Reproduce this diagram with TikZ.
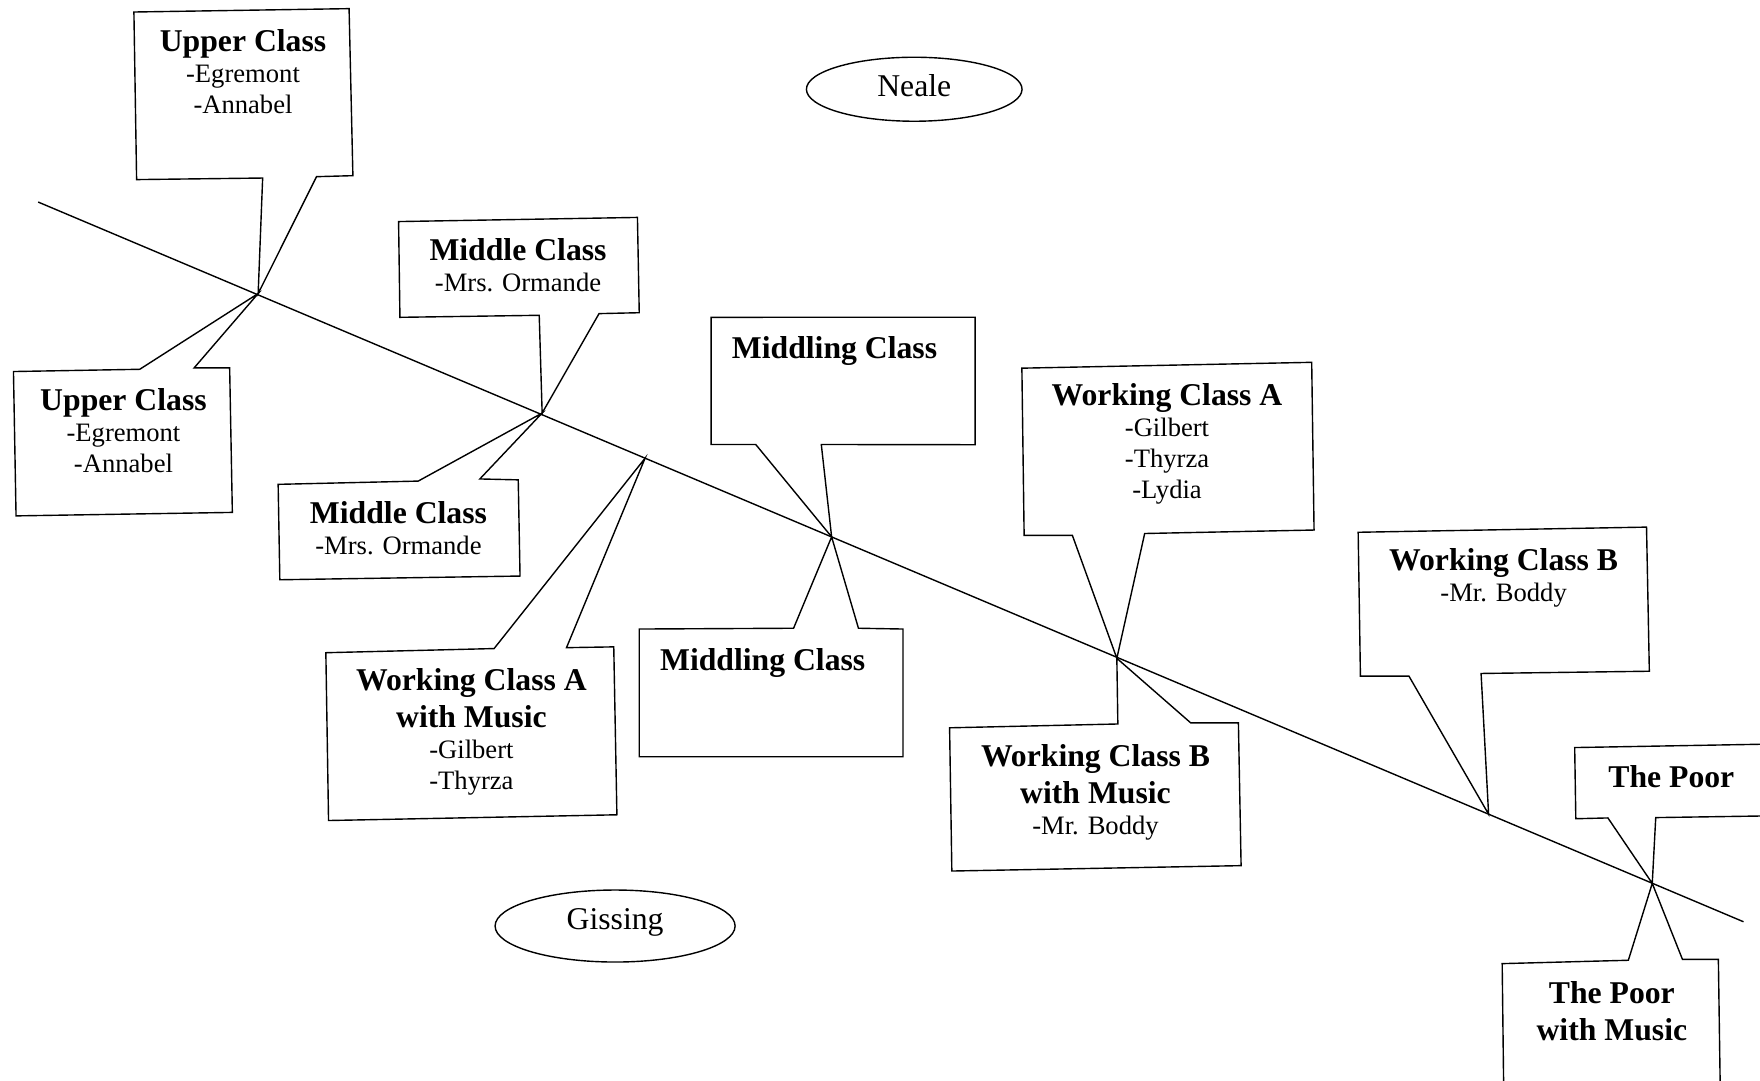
\documentclass[tikz,border=0pt]{standalone}
\usepackage{fontspec}
\setmainfont{Liberation Serif}
\usepackage{tikz}
\usetikzlibrary{calc}
\usetikzlibrary{positioning}
\usetikzlibrary{arrows,shapes}
\usetikzlibrary{shapes.geometric}
\newcommand{\cls}[1]{{\fontsize{15.85}{18}\selectfont\bfseries #1}}
\newcommand{\au}[2][-1.95pt]{\raisebox{#1}[0pt][0pt]{#2}}
\tikzset{
  callout/.style={draw, line width=0.7pt, line join=miter},
  txt/.style={anchor=north, inner sep=0pt, align=center, font=\fontsize{13.3}{15.5}\selectfont},
  author/.style={draw, ellipse, line width=0.7pt, inner sep=0pt, font=\fontsize{15.85}{18}\selectfont},
}

\begin{document}
\begin{tikzpicture}[x=0.5612pt, y=-0.5612pt]

  \clip (0,0) rectangle (1568,963);
  \fill[white] (0,0) rectangle (1568,963);

  % the scale line and the points on it
  \coordinate (lineW) at (34,180);
  \coordinate (lineE) at (1553.3,821.2);
  \coordinate (tipU) at (230,261.5);
  \coordinate (tipM) at (483,368);
  \coordinate (tipW) at (574.7,408.2);
  \coordinate (tipMd) at (740.9,478.3);
  \coordinate (tipA) at (995,586.5);
  \coordinate (tipB) at (1326.2,725.4);
  \coordinate (tipP) at (1472,787);
  \draw[line width=0.7pt] (lineW) -- (lineE);

  % Neale, above the line
  \draw[callout] (119.3,10.7) -- (311,7.7) -- (314.4,156.5) -- (282,157.4) -- (tipU) -- (234,158.6) -- (121.7,160) -- cycle;
  \draw[callout] (355.1,197.4) -- (567.9,193.7) -- (569.5,278.6) -- (533.7,279.4) -- (tipM) -- (480.4,280.9) -- (356.3,282.7) -- cycle;
  \draw[callout] (633.5,282.7) -- (868.7,282.6) -- (868.7,396.2) -- (731.7,396) -- (tipMd) -- (673.3,396) -- (633.5,396) -- cycle;
  \draw[callout] (910.4,328) -- (1168.6,322.8) -- (1170.7,472.2) -- (1019.8,475.3) -- (tipA) -- (955.4,477) -- (912.4,477) -- cycle;
  \draw[callout] (1210,474.2) -- (1466.9,469.6) -- (1469.4,598) -- (1319.5,600) -- (tipB) -- (1255.2,602.3) -- (1212,602.3) -- cycle;
  \draw[callout] (1402.9,666) -- (1600,662.5) -- (1600,726.5) -- (1475.1,728.4) -- (tipP) -- (1432.5,728.7) -- (1403.9,729.4) -- cycle;

  % Gissing, below the line
  \draw[callout] (12,331) -- (124.5,329) -- (tipU) -- (173,327.7) -- (204.6,327.7) -- (207,456.5) -- (14.3,459.6) -- cycle;
  \draw[callout] (247.8,431.5) -- (372.6,428.6) -- (tipM) -- (427.5,426.7) -- (461.7,427.5) -- (463.3,513.2) -- (249.3,516.5) -- cycle;
  \draw[callout] (290.3,581.5) -- (440.2,577.8) -- (tipW) -- (504.7,577) -- (546.8,576.3) -- (549.6,725.9) -- (292.7,731) -- cycle;
  \draw[callout] (569.5,560.4) -- (707,559.7) -- (tipMd) -- (764.8,559.7) -- (804.5,560.4) -- (804.5,674.2) -- (569.5,674.2) -- cycle;
  \draw[callout] (846,648.4) -- (995.9,645) -- (tipA) -- (1060.8,644) -- (1103.3,644) -- (1105.7,771.2) -- (848,776) -- cycle;
  \draw[callout] (1338.3,858.5) -- (1450.7,855.5) -- (tipP) -- (1498.9,854.7) -- (1530.9,854.7) -- (1533,1000) -- (1340,1000) -- cycle;

  \node[txt] (upperN) at (216.5,25.5) {\cls{Upper Class}\\ -Egremont\\ -Annabel};
  \node[txt] (middleN) at (461.5,212.5) {\cls{Middle Class}\\ -Mrs. Ormande};
  \node[txt] (middlingN) at (743.5,299.5) {\cls{Middling Class}};
  \node[txt] (workAN) at (1039.7,341.6) {\cls{Working Class A}\\ -Gilbert\\ -Thyrza\\ -Lydia};
  \node[txt] (workBN) at (1339.6,488.4) {\cls{Working Class B}\\ -Mr. Boddy};
  \node[txt] (poorN) at (1489,681.5) {\cls{The Poor}};

  \node[txt] (upperG) at (110,346) {\cls{Upper Class}\\ -Egremont\\ -Annabel};
  \node[txt] (middleG) at (355,446) {\cls{Middle Class}\\ -Mrs. Ormande};
  \node[txt] (workAG) at (420,595) {\cls{Working Class A}\\[3.1pt] \cls{with Music}\\ -Gilbert\\ -Thyrza};
  \node[txt] (middlingG) at (679.5,577) {\cls{Middling Class}};
  \node[txt] (workBG) at (976,663) {\cls{Working Class B}\\[3.1pt] \cls{with Music}\\ -Mr. Boddy};
  \node[txt] (poorG) at (1436,874) {\cls{The Poor}\\[3.1pt] \cls{with Music}};

  \node[author, minimum width=107.8pt, minimum height=32pt] (neale) at (814.5,79.5) {\au[-3.6pt]{Neale}};
  \node[author, minimum width=120pt, minimum height=36pt] (gissing) at (548,825) {\au{Gissing}};

\end{tikzpicture}
\end{document}
